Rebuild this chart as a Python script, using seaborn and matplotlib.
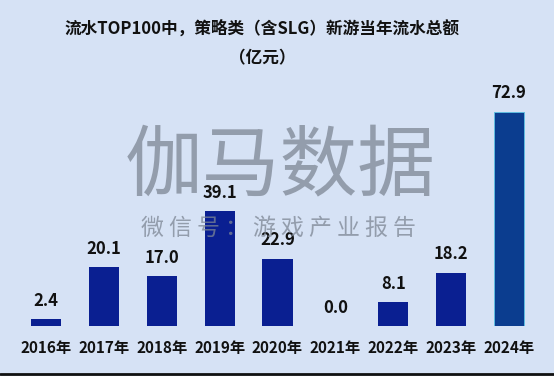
import matplotlib
matplotlib.use("Agg")
import matplotlib.pyplot as plt
import pandas as pd
import seaborn as sns
from matplotlib.lines import Line2D

years = ["2016年", "2017年", "2018年", "2019年", "2020年", "2021年", "2022年", "2023年", "2024年"]
revenue = [2.4, 20.1, 17.0, 39.1, 22.9, 0.0, 8.1, 18.2, 72.9]
title = "流水TOP100中，策略类（含SLG）新游当年流水总额\n（亿元）"

bg = "#d6e2f5"
bar_colors = ["#0a1f91"] * 8 + ["#0b3d8f"]

sns.set_theme(style="white")
plt.rcParams["font.family"] = ["Noto Sans CJK SC", "DejaVu Sans"]

df = pd.DataFrame({"year": years, "revenue": revenue})

fig = plt.figure(figsize=(5.54, 3.76), dpi=100, facecolor=bg)
ax = fig.add_axes([17 / 554, 50 / 376, 521 / 554, 235 / 376])
ax.set_facecolor(bg)

# watermark
fig.text(0.505, 0.555, "伽马数据", ha="center", va="center", fontsize=56,
         color="#7d8694", alpha=0.75, zorder=0)
fig.text(0.503, 0.392, "微 信 号 ： 游 戏 产 业 报 告", ha="center", va="center",
         fontsize=16.5, color="#7d8694", alpha=0.75, zorder=0)

sns.barplot(data=df, x="year", y="revenue", hue="year", palette=bar_colors,
            legend=False, width=0.52, saturation=1, ax=ax, zorder=2)
for p in ax.patches:
    p.set_edgecolor("none")
ax.patches[-1].set_edgecolor("#5fbde0")
ax.patches[-1].set_linewidth(0.7)

for i, v in enumerate(revenue):
    ax.text(i, v + 3.2, f"{v:.1f}", ha="center", va="bottom", fontsize=12,
            fontweight="bold", color="#111111", zorder=3)

ax.set_ylim(0, 80)
ax.set_xlim(-0.5, 8.5)
ax.set_xlabel("")
ax.set_ylabel("")
ax.set_yticks([])
ax.tick_params(axis="x", length=0, pad=10)
for lbl in ax.get_xticklabels():
    lbl.set_fontsize(11)
    lbl.set_fontweight("bold")
    lbl.set_color("#111111")
sns.despine(ax=ax, left=True, bottom=True)

fig.text(0.473, 0.884, title, ha="center", va="center", fontsize=12,
         fontweight="heavy", color="#111111", linespacing=1.8)

fig.add_artist(Line2D([0, 1], [0.004, 0.004], transform=fig.transFigure,
                      color="#111111", linewidth=2))

fig.savefig("out.png", dpi=100, facecolor=bg)
